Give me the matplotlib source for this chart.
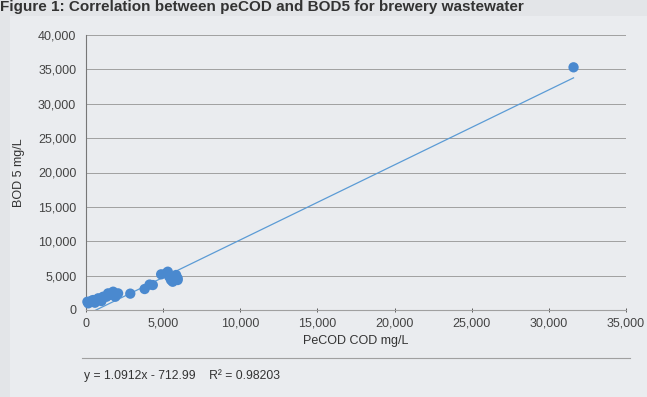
import numpy as np
import matplotlib as mpl
mpl.use('Agg')
import matplotlib.pyplot as plt
from matplotlib.patches import Rectangle
from matplotlib.ticker import FuncFormatter

plt.rcParams['font.family'] = ['Liberation Sans', 'DejaVu Sans']

# PeCOD COD (mg/L) vs BOD5 (mg/L), brewery wastewater samples
pecod = [90, 150, 360, 470, 580, 790, 900, 1000, 1110, 1330, 1430, 1540, 1760,
         1900, 2080, 2870, 3800, 4120, 4330, 4870, 5190, 5300, 5400, 5510,
         5620, 5840, 5940, 5940, 31600]
bod5 = [1200, 970, 1350, 1450, 1060, 1700, 1450, 1300, 1930, 1930, 2420, 2200,
        2660, 1930, 2420, 2380, 3050, 3700, 3630, 5190, 5330, 5570, 4840, 4360,
        4110, 5090, 4600, 4360, 35300]

slope = 1.0912
intercept = -712.99
r2 = 0.98203

fig = plt.figure(figsize=(6.47, 3.97), dpi=100, facecolor='#e3e5e8')
fig.patches.append(Rectangle((10 / 647, 0), 1, 1 - 16 / 397, transform=fig.transFigure,
                             facecolor='#eaecef', edgecolor='none', zorder=-10))

fig.text(0.0, 1.0, 'Figure 1: Correlation between peCOD and BOD5 for brewery wastewater',
         fontsize=11, fontweight='bold', color='#333333', va='top', ha='left')

ax = fig.add_axes([86 / 647, 1 - 310 / 397, (626 - 86) / 647, (310 - 35) / 397])
ax.set_facecolor('none')

xs = np.array([min(pecod), max(pecod)])
ax.plot(xs, slope * xs + intercept, color='#5b9bd5', lw=0.9, zorder=2)
ax.scatter(pecod, bod5, s=55, color='#4a89cf', edgecolors='none', zorder=3, clip_on=False)

ax.set_xlim(0, 35000)
ax.set_ylim(0, 40000)
ax.set_xticks(np.arange(0, 35001, 5000))
ax.set_yticks(np.arange(0, 40001, 5000))
fmt = FuncFormatter(lambda v, p: f'{int(v):,}')
ax.xaxis.set_major_formatter(fmt)
ax.yaxis.set_major_formatter(fmt)
ax.tick_params(axis='both', labelsize=9, colors='#444444', length=3, width=0.6)
ax.tick_params(axis='y', length=0, pad=7)
ax.tick_params(axis='x', direction='inout', pad=4)

ax.grid(axis='y', color='#a0a0a0', lw=0.7)
ax.set_axisbelow(True)
for s in ['top', 'right']:
    ax.spines[s].set_visible(False)
ax.spines['left'].set_color('#777777')
ax.spines['left'].set_linewidth(0.8)
ax.spines['bottom'].set_color('#a0a0a0')
ax.spines['bottom'].set_linewidth(0.8)

ax.set_xlabel('PeCOD COD mg/L', fontsize=9, color='#333333', labelpad=4)
ax.set_ylabel('BOD 5 mg/L', fontsize=9, color='#333333', labelpad=9)

fig.add_artist(plt.Line2D([82 / 647, 630 / 647], [1 - 358 / 397] * 2,
                          transform=fig.transFigure, color='#a0a0a0', lw=0.8))
fig.text(84 / 647, 1 - 376 / 397,
         f'y = {slope}x - {abs(intercept)}    R² = {r2}',
         fontsize=8.7, color='#333333', va='center', ha='left')

fig.savefig('out.png', dpi=100, facecolor=fig.get_facecolor())
